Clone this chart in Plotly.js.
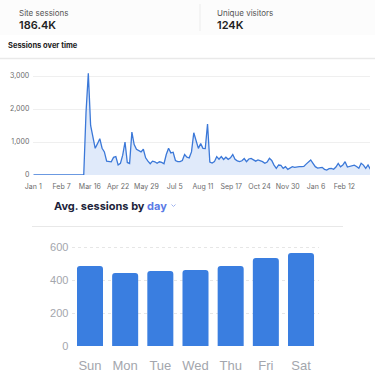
<!DOCTYPE html>
<html>
<head>
<meta charset="utf-8">
<script src="https://cdn.plot.ly/plotly-3.0.1.min.js"></script>
<style>
html,body{margin:0;padding:0;background:#fff;}
#chart{width:375px;height:375px;}
</style>
</head>
<body>
<div id="chart"></div>
<script>
// ---- data ----
const startDate = '2019-01-01';
const stepDays = 3;
const sessions = [
  0,0,0,0,0,0,0,0,0,0,0,0,0,0,0,0,0,0,0,0,0,0,0,
  1900,3080,1500,1100,810,950,1100,810,700,420,420,400,535,555,303,354,600,1000,380,350,
  1300,920,780,740,700,780,520,420,340,420,400,354,400,380,340,620,810,670,690,440,
  404,404,440,620,540,520,700,1280,1050,808,950,808,800,1545,390,360,404,556,480,560,
  470,540,475,520,620,475,430,404,430,500,404,485,505,460,420,455,440,404,353,390,
  505,440,300,202,303,290,202,252,172,220,252,232,250,252,252,260,330,400,455,353,
  252,210,220,232,172,151,190,200,172,240,353,250,300,404,240,260,280,300,260,202,
  353,300,202,303,172
];
const sessionTicks = [0, 1000, 2000, 3000];

const days = ['Sun', 'Mon', 'Tue', 'Wed', 'Thu', 'Fri', 'Sat'];
const avgSessions = [485, 442, 455, 460, 485, 533, 564];
const avgTicks = [0, 200, 400, 600];

const kpiLabels = ['Site sessions', 'Unique visitors'];
const kpiValues = ['186.4K', '124K'];

// ---- build ----
const DAY = 86400000;
const t0 = Date.UTC(2019, 0, 1);
const dates = sessions.map((_, i) => new Date(t0 + i * stepDays * DAY).toISOString().slice(0, 10));

const W = 375, H = 375;
const px = x => x / W;
const py = y => 1 - y / H;

const lineTrace = {
  type: 'scatter', mode: 'lines', x: dates, y: sessions,
  xaxis: 'x', yaxis: 'y',
  line: {color: '#3b78d8', width: 1.3, shape: 'linear'},
  fill: 'tozeroy', fillcolor: 'rgba(70,130,225,0.17)',
  hoverinfo: 'skip'
};
const barTrace = {
  type: 'bar', x: days, y: avgSessions,
  xaxis: 'x2', yaxis: 'y2',
  marker: {color: '#3a7ee0', cornerradius: 3},
  hoverinfo: 'skip'
};

const grayFont = {family: 'Inter, "Liberation Sans", sans-serif', size: 7, color: '#6b6b6b'};

const layout = {
  width: W, height: H,
  margin: {l: 0, r: 0, t: 0, b: 0},
  paper_bgcolor: '#ffffff', plot_bgcolor: 'rgba(0,0,0,0)',
  showlegend: false,
  bargap: 0.26,
  xaxis: {
    type: 'date', domain: [px(33.3), px(370)],
    range: [startDate, '2020-03-16 14:00'],
    tick0: startDate, dtick: 37 * DAY, tickformat: '%b %-d',
    tickfont: grayFont, ticks: '', showgrid: false, zeroline: false,
    showline: false, ticklabelstandoff: 6, anchor: 'y'
  },
  yaxis: {
    domain: [py(175), py(69.4)], range: [0, 3200],
    tickvals: sessionTicks, tickformat: ',d',
    tickfont: grayFont, ticks: '', showgrid: true, gridcolor: '#efefef', gridwidth: 1,
    zeroline: false, showline: false, ticklabelstandoff: 3, anchor: 'x'
  },
  xaxis2: {
    domain: [px(72.4), px(318.6)], anchor: 'y2',
    categoryorder: 'array', categoryarray: days,
    tickfont: {family: '"Liberation Sans", Arial, sans-serif', size: 13, color: '#a3a6ad'},
    ticks: '', showgrid: false, zeroline: false, showline: false, ticklabelstandoff: 10
  },
  yaxis2: {
    domain: [py(346), py(243.7)], range: [0, 620], anchor: 'x2',
    tickvals: avgTicks,
    tickfont: {family: '"Liberation Sans", Arial, sans-serif', size: 11, color: '#a3a6ad'},
    ticks: '', showgrid: true, gridcolor: '#e6e6e6', griddash: 'dot', gridwidth: 1,
    zeroline: false, showline: false, ticklabelstandoff: 3
  },
  shapes: [
    // top KPI strip background
    {type: 'rect', xref: 'paper', yref: 'paper', x0: 0, x1: 1, y0: py(35), y1: 1,
     fillcolor: '#fcfcfc', line: {width: 0}, layer: 'below'},
    // KPI divider
    {type: 'line', xref: 'paper', yref: 'paper', x0: px(200), x1: px(200), y0: py(4), y1: py(31),
     line: {color: '#ececec', width: 1}},
    // header separator
    {type: 'line', xref: 'paper', yref: 'paper', x0: 0, x1: 1, y0: py(58.5), y1: py(58.5),
     line: {color: '#e9e9e9', width: 1.5}},
    // bar card separator
    {type: 'line', xref: 'paper', yref: 'paper', x0: px(32), x1: px(343), y0: py(226.5), y1: py(226.5),
     line: {color: '#e8e8e8', width: 1}},
    // chevron
    {type: 'path', xref: 'paper', yref: 'paper',
     path: 'M ' + px(171.5) + ',' + py(204.5) + ' L ' + px(173.5) + ',' + py(206.5) + ' L ' + px(175.5) + ',' + py(204.5),
     line: {color: '#9fb3ef', width: 1}}
  ],
  annotations: [
    {xref: 'paper', yref: 'paper', x: px(17), y: py(13), xanchor: 'left', yanchor: 'middle', showarrow: false,
     text: kpiLabels[0], font: {family: 'Inter, sans-serif', size: 8, color: '#555'}},
    {xref: 'paper', yref: 'paper', x: px(17), y: py(24.5), xanchor: 'left', yanchor: 'middle', showarrow: false,
     text: kpiValues[0], font: {family: 'Inter, sans-serif', size: 11, color: '#222', weight: 600}},
    {xref: 'paper', yref: 'paper', x: px(215), y: py(13), xanchor: 'left', yanchor: 'middle', showarrow: false,
     text: kpiLabels[1], font: {family: 'Inter, sans-serif', size: 8, color: '#555'}},
    {xref: 'paper', yref: 'paper', x: px(215), y: py(24.5), xanchor: 'left', yanchor: 'middle', showarrow: false,
     text: kpiValues[1], font: {family: 'Inter, sans-serif', size: 11, color: '#222', weight: 600}},
    {xref: 'paper', yref: 'paper', x: px(6), y: py(45), xanchor: 'left', yanchor: 'middle', showarrow: false,
     text: '<b>Sessions over time</b>', font: {family: 'Inter, sans-serif', size: 7.5, color: '#222'}},
    {xref: 'paper', yref: 'paper', x: px(52), y: py(206), xanchor: 'left', yanchor: 'middle', showarrow: false,
     text: '<b>Avg. sessions by <span style="color:#5b7be6">day</span></b>',
     font: {family: 'Inter, sans-serif', size: 11, color: '#1c1f3b'}}
  ]
};

Plotly.newPlot('chart', [lineTrace, barTrace], layout, {staticPlot: true, displayModeBar: false});
</script>
</body>
</html>
